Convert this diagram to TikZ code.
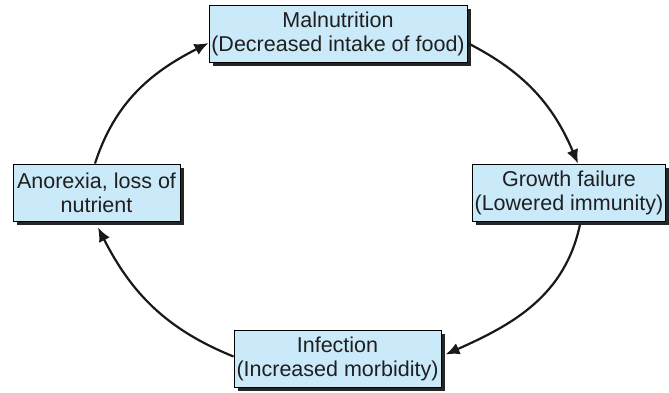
\documentclass[tikz,border=0pt]{standalone}
\usepackage{fontspec}
\setmainfont{Liberation Sans}
\usepackage{tikz}
\usetikzlibrary{arrows.meta, shadows, positioning}
\definecolor{boxblue}{RGB}{202,234,250}
\tikzstyle{stage} = [rectangle, draw=black, line width=1pt, fill=boxblue, align=center, inner sep=2pt, minimum height=57pt, text=black!88, font=\fontsize{21.5}{24}\selectfont, drop shadow={shadow xshift=3.5pt, shadow yshift=-3.5pt, opacity=1, fill=black!85}]
\tikzstyle{arrow} = [line width=2.2pt, draw=black!90, -{Latex[length=14pt,width=12pt]}]

\begin{document}
\begin{tikzpicture}[x=1pt, y=1pt]
\useasboundingbox (0,0) rectangle (669,392);

% Stages of the cycle
\node (maln) [stage, minimum width=258pt] at (338,358) {Malnutrition\\(Decreased intake of food)};
\node (grow) [stage, minimum width=190pt] at (569,199.5) {Growth failure\\(Lowered immunity)};
\node (infc) [stage, minimum width=207pt] at (337.5,33) {Infection\\(Increased morbidity)};
\node (anor) [stage, minimum width=167pt] at (96.5,199.5) {Anorexia, loss of\\nutrient};

% Arrows
\draw [arrow] ([yshift=-9pt]maln.east) to[out=-27, in=113] ([xshift=9pt]grow.north);
\draw [arrow] ([xshift=11pt, yshift=-3pt]grow.south) to[out=-102, in=24] ([xshift=4pt, yshift=4.5pt]infc.east);
\draw [arrow] ([yshift=2.5pt]infc.west) to[out=158, in=-63] ([xshift=1.5pt, yshift=-6pt]anor.south);
\draw [arrow] ([xshift=-1.5pt]anor.north) to[out=72, in=-153] ([yshift=-9pt]maln.west);

\end{tikzpicture}
\end{document}
